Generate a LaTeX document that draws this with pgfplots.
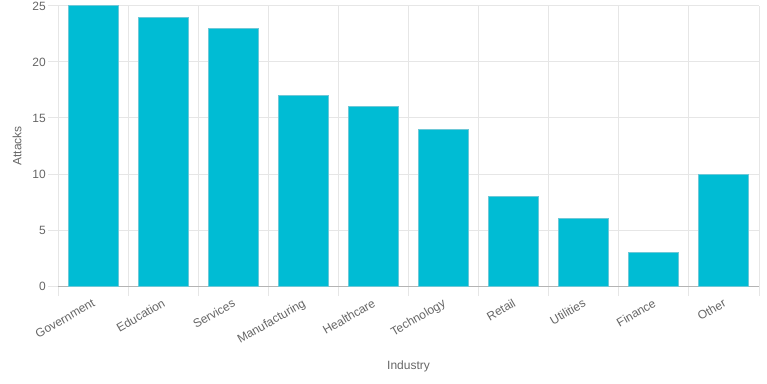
\documentclass[border=0pt]{standalone}
\usepackage{pgfplots}
\pgfplotsset{compat=1.18}
\usepackage{fontspec}
\setmainfont{Liberation Sans}
\definecolor{barfill}{RGB}{0,188,212}
\definecolor{barline}{RGB}{110,200,215}
\definecolor{gridc}{RGB}{230,230,230}
\definecolor{zeroc}{RGB}{180,180,180}
\definecolor{txt}{RGB}{102,102,102}
\begin{document}
\begin{tikzpicture}[x=1pt,y=1pt]
\fontsize{12}{14}\selectfont
\useasboundingbox (0,0) rectangle (767,383);
\begin{axis}[
  at={(58pt,97pt)}, anchor=south west,
  scale only axis, width=701pt, height=280pt,
  xmin=-0.5, xmax=9.5, ymin=0, ymax=25,
  /pgf/number format/assume math mode=true,
  font=\fontsize{12}{14}\selectfont,
  axis x line*=bottom, axis y line*=left,
  axis line style={-},
  x axis line style={draw=zeroc, line width=1pt},
  y axis line style={draw=gridc, line width=1pt},
  xtick={0,...,9},
  xticklabels={Government,Education,Services,Manufacturing,Healthcare,Technology,Retail,Utilities,Finance,Other},
  minor xtick={-0.5,0.5,...,9.5},
  xminorgrids, ymajorgrids,
  minor x grid style={draw=gridc, line width=1pt},
  y grid style={draw=gridc, line width=1pt},
  ytick={0,5,...,25},
  tick align=outside,
  major tick length=10pt, minor tick length=10pt,
  major x tick style={draw=none},
  minor x tick style={draw=gridc, line width=1pt},
  ytick style={draw=gridc, line width=1pt},
  tick label style={text=txt},
  xticklabel style={xshift=-1.5pt, yshift=-2pt, rotate=30, anchor=north east, inner sep=0pt},
  yticklabel style={inner sep=0pt, xshift=-2pt},
  xlabel={Industry}, ylabel={Attacks},
  label style={text=txt},
  xlabel style={at={(axis description cs:0.5,-0.2857)}, anchor=center},
  ylabel style={at={(axis description cs:-0.0585,0.5)}, anchor=center},
  clip=false,
]
\addplot[ybar, bar width=50pt, fill=barfill, draw=barline, line width=1pt]
  coordinates {(0,25) (1,24) (2,23) (3,17) (4,16) (5,14) (6,8) (7,6) (8,3) (9,10)};
\end{axis}
\end{tikzpicture}
\end{document}
